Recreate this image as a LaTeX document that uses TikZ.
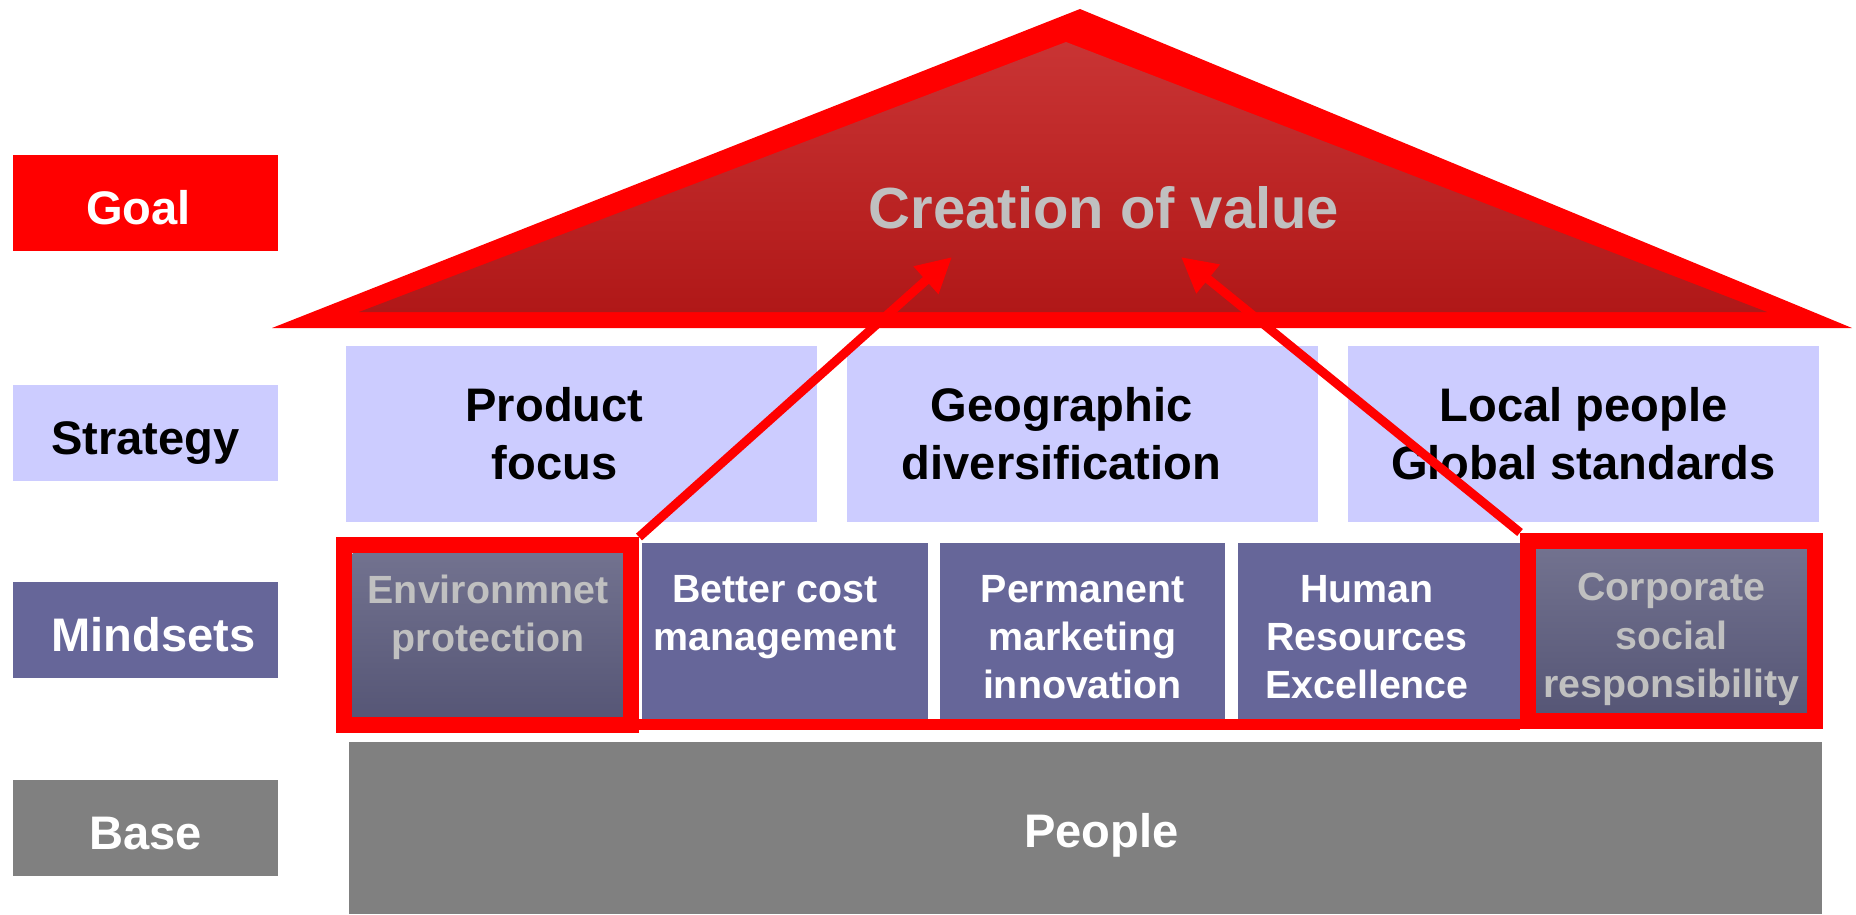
\documentclass[tikz,border=0pt]{standalone}
\usepackage{fontspec}
\setmainfont{Liberation Sans}
\usepackage{xcolor}
\usetikzlibrary{arrows.meta}
\definecolor{goalred}{HTML}{FF0000}
\definecolor{stratblue}{HTML}{CCCCFF}
\definecolor{mindblue}{HTML}{666699}
\definecolor{basegray}{HTML}{808080}
\definecolor{fadegray}{HTML}{C0C0C0}
\definecolor{rooftop}{HTML}{C93434}
\definecolor{roofbottom}{HTML}{B01818}
\definecolor{pickedtop}{HTML}{72728F}
\definecolor{pickedbottom}{HTML}{565676}
\newcommand{\px}{0.02cm}
\newcommand{\bigtext}{\fontsize{26.8}{33}\selectfont\bfseries}
\newcommand{\smalltext}{\fontsize{22.4}{27.5}\selectfont\bfseries}
\tikzstyle{arrow} = [-{Triangle[length=0.7cm,width=0.7cm]}, red, line width=9*\px]
\tikzstyle{rowlabel} = [minimum width=265*\px, minimum height=96*\px, inner sep=0pt, font=\bigtext, text height=26pt, text depth=1.6pt]
\tikzstyle{stratbox} = [fill=stratblue, minimum width=471*\px, minimum height=176*\px, inner sep=0pt]
\tikzstyle{strattext} = [align=center, font=\bigtext]
\tikzstyle{mindbox} = [fill=mindblue, minimum height=176*\px, inner sep=0pt]
\tikzstyle{mindtext} = [align=center, text=white, font=\smalltext]
\tikzstyle{picked} = [top color=pickedtop, bottom color=pickedbottom, minimum width=271*\px, minimum height=165*\px, inner sep=0pt]
\tikzstyle{pickedtext} = [align=center, text=fadegray, font=\smalltext]
\tikzstyle{pickframe} = [draw=red, line width=16*\px, minimum width=287*\px, minimum height=180*\px, inner sep=0pt]

\begin{document}
\begin{tikzpicture}[x=\px, y=-\px]
	\useasboundingbox (0,0) rectangle (1856,914);
	
	\node (goal) [rowlabel, fill=goalred] at (145.5,203) {};
	\node (goaltext) [rowlabel, text=white, minimum width=0pt, xshift=-7*\px] at (goal) {Goal};
	\node (strategy) [rowlabel, fill=stratblue] at (145.5,433) {Strategy};
	\node (mindsets) [rowlabel, fill=mindblue] at (145.5,630) {};
	\node (mindsetstext) [rowlabel, text=white, minimum width=0pt, xshift=8*\px] at (mindsets) {Mindsets};
	\node (base) [rowlabel, fill=basegray, text=white] at (145.5,828) {Base};
	
	\fill[red] (272,328) -- (1080,9) -- (1852,328) -- cycle;
	\path[top color=rooftop, bottom color=roofbottom] (359,312) -- (1066,42) -- (1767,312) -- cycle;
	\node (value) [font=\fontsize{33}{40}\selectfont\bfseries, text=fadegray] at (1104,208) {Creation of value};
	\coordinate (lefttip) at (952,257);
	\coordinate (righttip) at (1181,257);
	
	\node (product) [stratbox] at (581.5,434) {};
	\node (geo) [stratbox] at (1082.5,434) {};
	\node (local) [stratbox] at (1583.5,434) {};
	\node (producttext) [strattext, xshift=-27*\px] at (product) {Product\\focus};
	\node (geotext) [strattext, xshift=-21*\px] at (geo) {Geographic\\diversification};
	\node (localtext) [strattext] at (local) {Local people\\Global standards};
	
	\draw[red, line width=11*\px] (639,724.5) -- (1520,724.5);
	\node (cost) [mindbox, minimum width=286*\px] at (785,631) {};
	\node (marketing) [mindbox, minimum width=285*\px] at (1082.5,631) {};
	\node (hr) [mindbox, minimum width=282*\px] at (1379,631) {};
	\node (costtext) [mindtext, xshift=-10*\px, yshift=-6*\px] at (cost) {Better cost\\management\\~};
	\node (marketingtext) [mindtext, yshift=-6*\px] at (marketing) {Permanent\\marketing\\innovation};
	\node (hrtext) [mindtext, xshift=-12*\px, yshift=-6*\px] at (hr) {Human\\Resources\\Excellence};
	
	\node (env) [picked] at (488,635.5) {};
	\node (envframe) [pickframe] at (487.5,635) {};
	\node (envtext) [pickedtext, yshift=-2*\px] at (env) {Environmnet\\protection\\~};
	\node (csr) [picked] at (1671.5,630.5) {};
	\node (csrframe) [pickframe] at (1671.5,630.5) {};
	\node (csrtext) [pickedtext, yshift=-9*\px] at (csr) {Corporate\\social\\responsibility};
	
	\node (people) [fill=basegray, minimum width=1473*\px, minimum height=172*\px, inner sep=0pt] at (1085.5,828) {};
	\node (peopletext) [text=white, font=\bigtext, xshift=16*\px, yshift=-7*\px] at (people) {People};
	
	\draw [arrow] (envframe.north east) -- (lefttip);
	\draw [arrow] (csrframe.north west) -- (righttip);
\end{tikzpicture}
\end{document}
